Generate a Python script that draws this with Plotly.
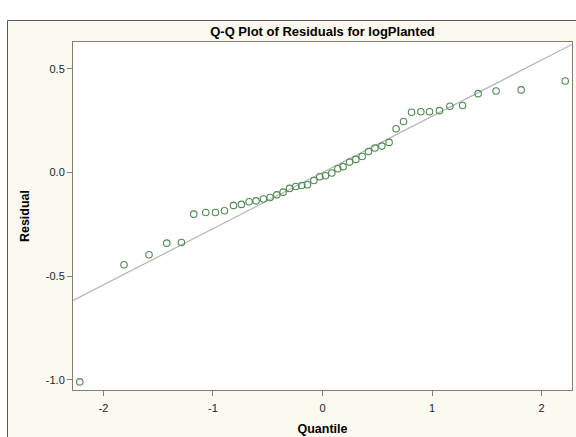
import plotly.graph_objects as go

# Normal quantiles (x) and residuals (y)
quantile = [-2.216, -1.812, -1.584, -1.422, -1.288, -1.175, -1.066, -0.977, -0.895, -0.813,
            -0.740, -0.670, -0.606, -0.539, -0.479, -0.417, -0.360, -0.301, -0.244, -0.189,
            -0.137, -0.079, -0.025, 0.027, 0.085, 0.140, 0.188, 0.247, 0.304, 0.362,
            0.420, 0.478, 0.542, 0.608, 0.672, 0.740, 0.813, 0.898, 0.977, 1.068,
            1.163, 1.279, 1.421, 1.585, 1.814, 2.216]
residual = [-1.010, -0.445, -0.397, -0.341, -0.338, -0.201, -0.193, -0.193, -0.185, -0.159,
            -0.154, -0.141, -0.137, -0.128, -0.121, -0.108, -0.095, -0.077, -0.068, -0.063,
            -0.059, -0.039, -0.021, -0.016, -0.003, 0.018, 0.028, 0.050, 0.063, 0.077,
            0.101, 0.118, 0.127, 0.145, 0.211, 0.246, 0.290, 0.293, 0.293, 0.298,
            0.319, 0.323, 0.380, 0.393, 0.398, 0.441]

ref_mu = 0.0
ref_sigma = 0.271

x_range = [-2.278, 2.278]
y_range = [-1.049, 0.629]
x_ticks = [-2, -1, 0, 1, 2]
y_ticks = [-1.0, -0.5, 0.0, 0.5]
y_ticklabels = ["-1.0", "-0.5", "0.0", "0.5"]

title_text = "Q-Q Plot of Residuals for logPlanted"
x_title = "Quantile"
y_title = "Residual"

W, H = 576, 437
L, R, T, B = 73, 4, 42, 47
pw, ph = W - L - R, H - T - B

def px_to_paper_x(px):
    return (px - L) / pw

def px_to_paper_y(py):
    return (H - B - py) / ph

cream = "#FCF9F1"
frame = "#857F70"
font_family = "Liberation Sans, Arial, sans-serif"

fig = go.Figure()
line_x = [x_range[0], x_range[1]]
line_y = [ref_mu + ref_sigma * v for v in line_x]
fig.add_trace(go.Scatter(x=line_x, y=line_y, mode="lines",
                         line=dict(color="#B4B4B4", width=1.2), hoverinfo="skip",
                         showlegend=False))
fig.add_trace(go.Scatter(x=quantile, y=residual, mode="markers",
                         marker=dict(symbol="circle-open", size=6.5,
                                     color="#4E8A52", line=dict(width=1.1, color="#4E8A52")),
                         showlegend=False))

# Outer background strips and border
bx, by = 7.5, 20.5
shapes = [
    dict(type="rect", xref="paper", yref="paper",
         x0=px_to_paper_x(-5), x1=px_to_paper_x(W + 5),
         y0=px_to_paper_y(by), y1=px_to_paper_y(-5),
         fillcolor="white", line=dict(width=0), layer="below"),
    dict(type="rect", xref="paper", yref="paper",
         x0=px_to_paper_x(-5), x1=px_to_paper_x(bx),
         y0=px_to_paper_y(H + 5), y1=px_to_paper_y(-5),
         fillcolor="white", line=dict(width=0), layer="below"),
    dict(type="line", xref="paper", yref="paper",
         x0=px_to_paper_x(bx), x1=px_to_paper_x(W + 5),
         y0=px_to_paper_y(by), y1=px_to_paper_y(by),
         line=dict(color="#5A5A5A", width=1)),
    dict(type="line", xref="paper", yref="paper",
         x0=px_to_paper_x(bx), x1=px_to_paper_x(bx),
         y0=px_to_paper_y(by), y1=px_to_paper_y(H + 5),
         line=dict(color="#5A5A5A", width=1)),
]

fig.update_layout(
    width=W, height=H,
    margin=dict(l=L, r=R, t=T, b=B, pad=0),
    paper_bgcolor=cream, plot_bgcolor="white",
    font=dict(family=font_family, size=11, color="#222222"),
    title=dict(text="<b>" + title_text + "</b>", x=0.5, xref="paper",
               y=1 - 31 / H, yref="container", yanchor="middle", xanchor="center",
               font=dict(size=13, color="black", family=font_family)),
    shapes=shapes,
    xaxis=dict(range=x_range, tickvals=x_ticks, ticktext=[str(v) for v in x_ticks],
               showgrid=False, zeroline=False, showline=True, mirror=True,
               linecolor=frame, linewidth=1, ticks="outside", ticklen=5,
               tickcolor=frame, tickfont=dict(size=11, color="#222222"),
               ticklabelstandoff=3,
               title=dict(text="<b>" + x_title + "</b>", standoff=11,
                          font=dict(size=12.5, color="black"))),
    yaxis=dict(range=y_range, tickvals=y_ticks, ticktext=y_ticklabels,
               showgrid=False, zeroline=False, showline=True, mirror=True,
               linecolor=frame, linewidth=1, ticks="outside", ticklen=5,
               tickcolor=frame, tickfont=dict(size=11, color="#222222"),
               title=dict(text="<b>" + y_title + "</b>", standoff=13,
                          font=dict(size=12.5, color="black"))),
)

fig.write_html("out.html")
